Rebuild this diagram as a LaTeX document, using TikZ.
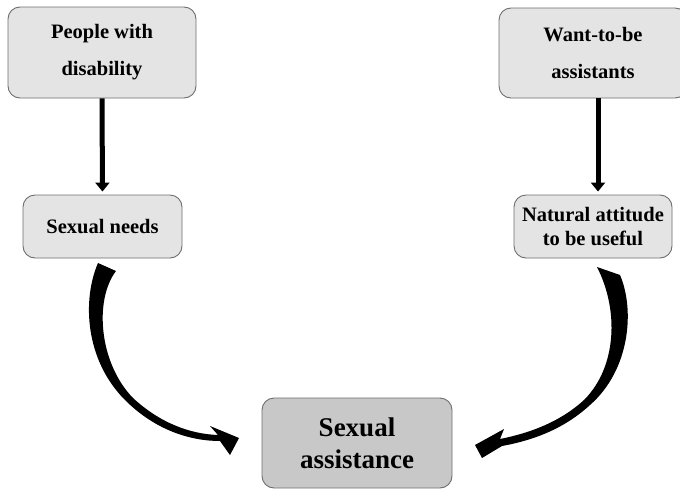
\documentclass[tikz,border=0pt]{standalone}
\usepackage{fontspec}
\setmainfont{Liberation Serif}
\usetikzlibrary{arrows.meta}
\definecolor{boxfill}{RGB}{228,228,228}
\definecolor{boxdark}{RGB}{200,200,200}
\definecolor{boxline}{RGB}{110,110,110}
\tikzset{
  gbox/.style={draw=boxline, line width=0.9pt, fill=boxfill, rounded corners=12pt,
    align=center, inner sep=0pt, font=\fontsize{20.5}{24}\selectfont\bfseries},
  vline/.style={line width=5pt, -{Triangle[width=14pt,length=9pt]}, shorten >=3pt},
  bigarrow/.style={fill=black, draw=none}
}
\begin{document}
\begin{tikzpicture}[x=1pt,y=-1pt]
\useasboundingbox (0,0) rectangle (680,490);
\clip (0,0) rectangle (680,490);
\node[gbox, minimum width=188pt, minimum height=91pt, font=\fontsize{20.5}{37}\selectfont\bfseries] (pwd) at (102,52.5) {People with\\disability};
\node[gbox, minimum width=188pt, minimum height=90pt, font=\fontsize{20.5}{37}\selectfont\bfseries] (wtb) at (593,53) {Want-to-be\\assistants};
\node[gbox, minimum width=159pt, minimum height=63pt] (sn) at (102.5,226.5) {Sexual needs};
\node[gbox, minimum width=158pt, minimum height=63pt] (na) at (593,226.5) {Natural attitude\\to be useful};
\node[gbox, fill=boxdark, minimum width=190pt, minimum height=90pt, font=\fontsize{27}{32}\selectfont\bfseries] (sa) at (357,443) {Sexual\\assistance};
\draw[vline] (pwd.south) -- (sn.north);
\draw[vline] ([xshift=5pt]wtb.south) -- ([xshift=5pt]na.north);
% left curved arrow
\fill[bigarrow] (98,263) .. controls (82,300) and (85,360) .. (125,400)
  .. controls (155,430) and (190,441) .. (220,441)
  -- (230,455) -- (239,438) -- (210,426) -- (218,435)
  .. controls (190,434) and (160,423) .. (133,398)
  .. controls (99,363) and (94,300) .. (116,271) -- cycle;
% right curved arrow
\fill[bigarrow] (620,275) .. controls (635,310) and (630,370) .. (590,405)
  .. controls (565,428) and (535,440) .. (502,446)
  -- (482,458) -- (475,445) -- (504,429) -- (500,439)
  .. controls (530,433) and (560,422) .. (584,400)
  .. controls (617,367) and (619,310) .. (597,267) -- cycle;
\end{tikzpicture}
\end{document}
